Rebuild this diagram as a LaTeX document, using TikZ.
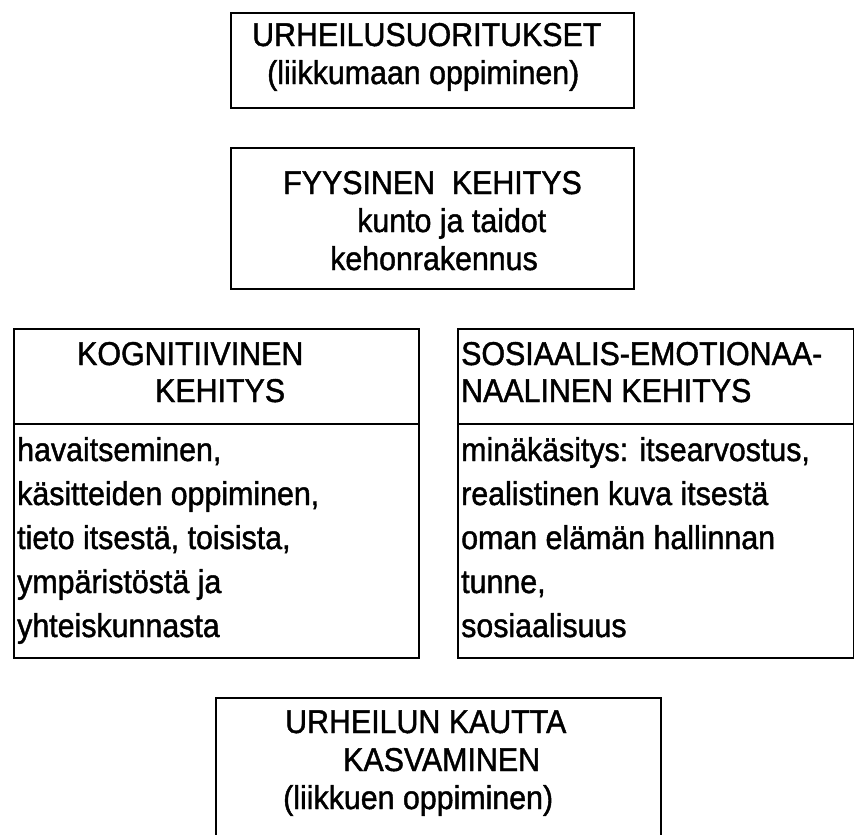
\documentclass[tikz,border=0pt]{standalone}
\usepackage{fontspec}
\setmainfont{Liberation Sans}
\newfontfamily\diagfont{Liberation Sans}[FakeStretch=0.92,FakeBold=1.3]
\begin{document}
\begin{tikzpicture}[x=1pt,y=-1pt,
  box/.style={draw, line width=2.2pt, anchor=north west, inner sep=0pt},
  txt/.style={anchor=base west, inner sep=0pt, font=\diagfont\fontsize{33}{38}\selectfont}]
\useasboundingbox (0,0) rectangle (854,835);
\clip (0,0) rectangle (854,835);
% boxes
\node[box, minimum width=403pt, minimum height=95pt] (b1) at (230,12) {};
\node[box, minimum width=403pt, minimum height=141pt] (b2) at (230,147) {};
\node[box, minimum width=405pt, minimum height=95pt] (kh) at (13,328) {};
\node[box, minimum width=405pt, minimum height=234pt] (kb) at (13,423) {};
\node[box, minimum width=396pt, minimum height=95pt] (sh) at (457,328) {};
\node[box, minimum width=396pt, minimum height=234pt] (sb) at (457,423) {};
\node[box, minimum width=445pt, minimum height=200pt] (b5) at (215,697) {};
% box 1
\node[txt] (t11) at (252,46) {URHEILUSUORITUKSET};
\node[txt] (t12) at (267,84) {(liikkumaan oppiminen)};
% box 2
\node[txt] (t21) at (283,194) {FYYSINEN\ \ KEHITYS};
\node[txt] (t22) at (357,232) {kunto ja taidot};
\node[txt] (t23) at (330,270) {kehonrakennus};
% kognitiivinen
\node[txt] (k1) at (77,365) {KOGNITIIVINEN};
\node[txt] (k2) at (155,402) {KEHITYS};
\node[txt] (k3) at (17,461) {havaitseminen,};
\node[txt] (k4) at (17,505) {käsitteiden oppiminen,};
\node[txt] (k5) at (17,549) {tieto itsestä, toisista,};
\node[txt] (k6) at (17,593) {ympäristöstä ja};
\node[txt] (k7) at (17,637) {yhteiskunnasta};
% sosiaalis
\node[txt] (s1) at (461,365) {SOSIAALIS-EMOTIONAA-};
\node[txt] (s2) at (461,402) {NAALINEN KEHITYS};
\node[txt] (s3) at (461,461) {minäkäsitys: itsearvostus,};
\node[txt] (s4) at (461,505) {realistinen kuva itsestä};
\node[txt] (s5) at (461,549) {oman elämän\ hallinnan};
\node[txt] (s6) at (461,593) {tunne,};
\node[txt] (s7) at (461,637) {sosiaalisuus};
% bottom
\node[txt] (u1) at (285,733) {URHEILUN KAUTTA};
\node[txt] (u2) at (343,771) {KASVAMINEN};
\node[txt] (u3) at (283,809) {(liikkuen oppiminen)};
\end{tikzpicture}
\end{document}
